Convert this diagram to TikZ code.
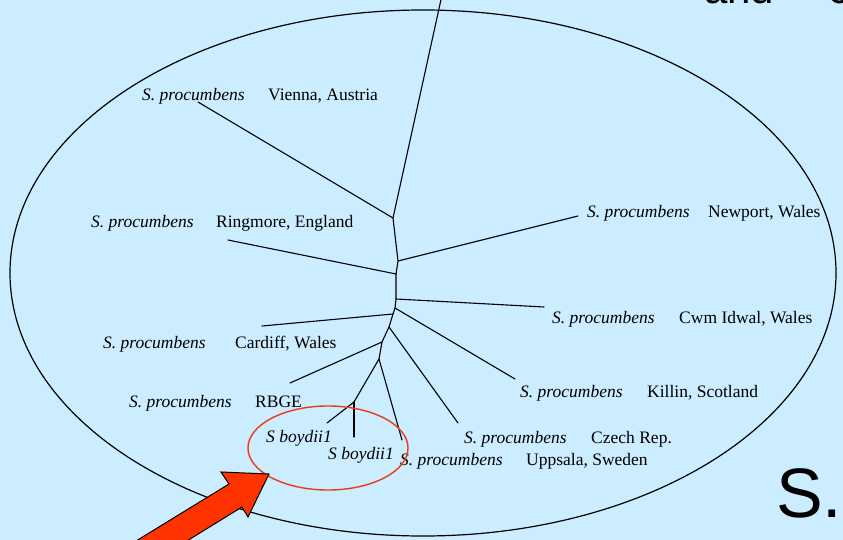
\documentclass[tikz,border=0pt]{standalone}
\usepackage{fontspec}
\setmainfont{Liberation Serif}
\newfontfamily\arialfont{Liberation Sans}
\definecolor{bgblue}{HTML}{CCECFF}
\definecolor{arrowred}{HTML}{FF3300}
\definecolor{ringred}{HTML}{F03A17}
\tikzset{
  lab/.style={anchor=base west, inner sep=0pt, font=\fontsize{17.5}{20}\selectfont},
  sp/.style={anchor=base west, inner sep=0pt, font=\fontsize{17.5}{20}\selectfont\itshape},
  br/.style={line width=1.1pt, line join=round, line cap=round},
  big/.style={anchor=base west, inner sep=0pt, font=\arialfont\fontsize{#1}{#1}\selectfont}
}
\begin{document}
\begin{tikzpicture}[x=1pt,y=-1pt]
\useasboundingbox (0,0) rectangle (843,540);
\fill[bgblue] (-5,-5) rectangle (848,545);

% large texts
\node[big=42] (t1) at (704,4) {and};
\node[big=42] (t2) at (828,4) {c};
\node[big=70] (t3) at (776,517) {S.};

% big ellipse
\draw[line width=1.2pt] (423,273) ellipse [x radius=413pt, y radius=263pt];

% tree coordinates
\coordinate (top) at (442,-5);
\coordinate (A) at (393,218);
\coordinate (B) at (398,261);
\coordinate (C) at (396,274);
\coordinate (D) at (396,299);
\coordinate (E) at (395,308);
\coordinate (F) at (393,314);
\coordinate (G) at (389,327);
\coordinate (H) at (382,342);
\coordinate (I) at (379,359);
\coordinate (J) at (354,402);
\coordinate (lV) at (198,102);
\coordinate (lN) at (578,216);
\coordinate (lR) at (228,240);
\coordinate (lW) at (544,307);
\coordinate (lK) at (515,379);
\coordinate (lC) at (262,326);
\coordinate (lZ) at (458,423);
\coordinate (lB) at (290,383);
\coordinate (lU) at (402,440);
\coordinate (lb1) at (327,423);
\coordinate (lb2) at (354,437);

\draw[br] (top) -- (A) -- (B) -- (C) -- (D) -- (E) -- (F) -- (G) -- (H) -- (I) -- (J);
\draw[br] (A) -- (lV);
\draw[br] (B) -- (lN);
\draw[br] (C) -- (lR);
\draw[br] (D) -- (lW);
\draw[br] (E) -- (lK);
\draw[br] (F) -- (lC);
\draw[br] (G) -- (lZ);
\draw[br] (H) -- (lB);
\draw[br] (I) -- (lU);
\draw[br] (J) -- (lb1);
\draw[br] (J) -- (lb2);

% labels
\node[sp] (s1) at (142,101) {S. procumbens};
\node[lab] (p1) at (268,101) {Vienna, Austria};
\node[sp] (s2) at (91,228) {S. procumbens};
\node[lab] (p2) at (216,228) {Ringmore, England};
\node[sp] (s3) at (587,218) {S. procumbens};
\node[lab] (p3) at (708,218) {Newport, Wales};
\node[sp] (s4) at (552,323) {S. procumbens};
\node[lab] (p4) at (679,323) {Cwm Idwal, Wales};
\node[sp] (s5) at (103,348) {S. procumbens};
\node[lab] (p5) at (235,348) {Cardiff, Wales};
\node[sp] (s6) at (129,407) {S. procumbens};
\node[lab] (p6) at (255,407) {RBGE};
\node[sp] (s7) at (520,397) {S. procumbens};
\node[lab] (p7) at (647,397) {Killin, Scotland};
\node[sp] (s8) at (464,443) {S. procumbens};
\node[lab] (p8) at (591,443) {Czech Rep.};
\node[sp] (s9) at (400,465) {S. procumbens};
\node[lab] (p9) at (526,465) {Uppsala, Sweden};
\node[sp] (b1) at (266,442) {S boydii1};
\node[sp] (b2) at (328,459) {S boydii1};

% red ring
\draw[ringred, line width=1.4pt] (328,448) ellipse [x radius=80pt, y radius=42pt];

% block arrow
\filldraw[fill=arrowred, draw=black, line width=1pt, line join=miter]
  (269,474) -- (221,472) -- (229,484) -- (105,560) -- (156,560) -- (242,507) -- (248,517) -- cycle;
\end{tikzpicture}
\end{document}
